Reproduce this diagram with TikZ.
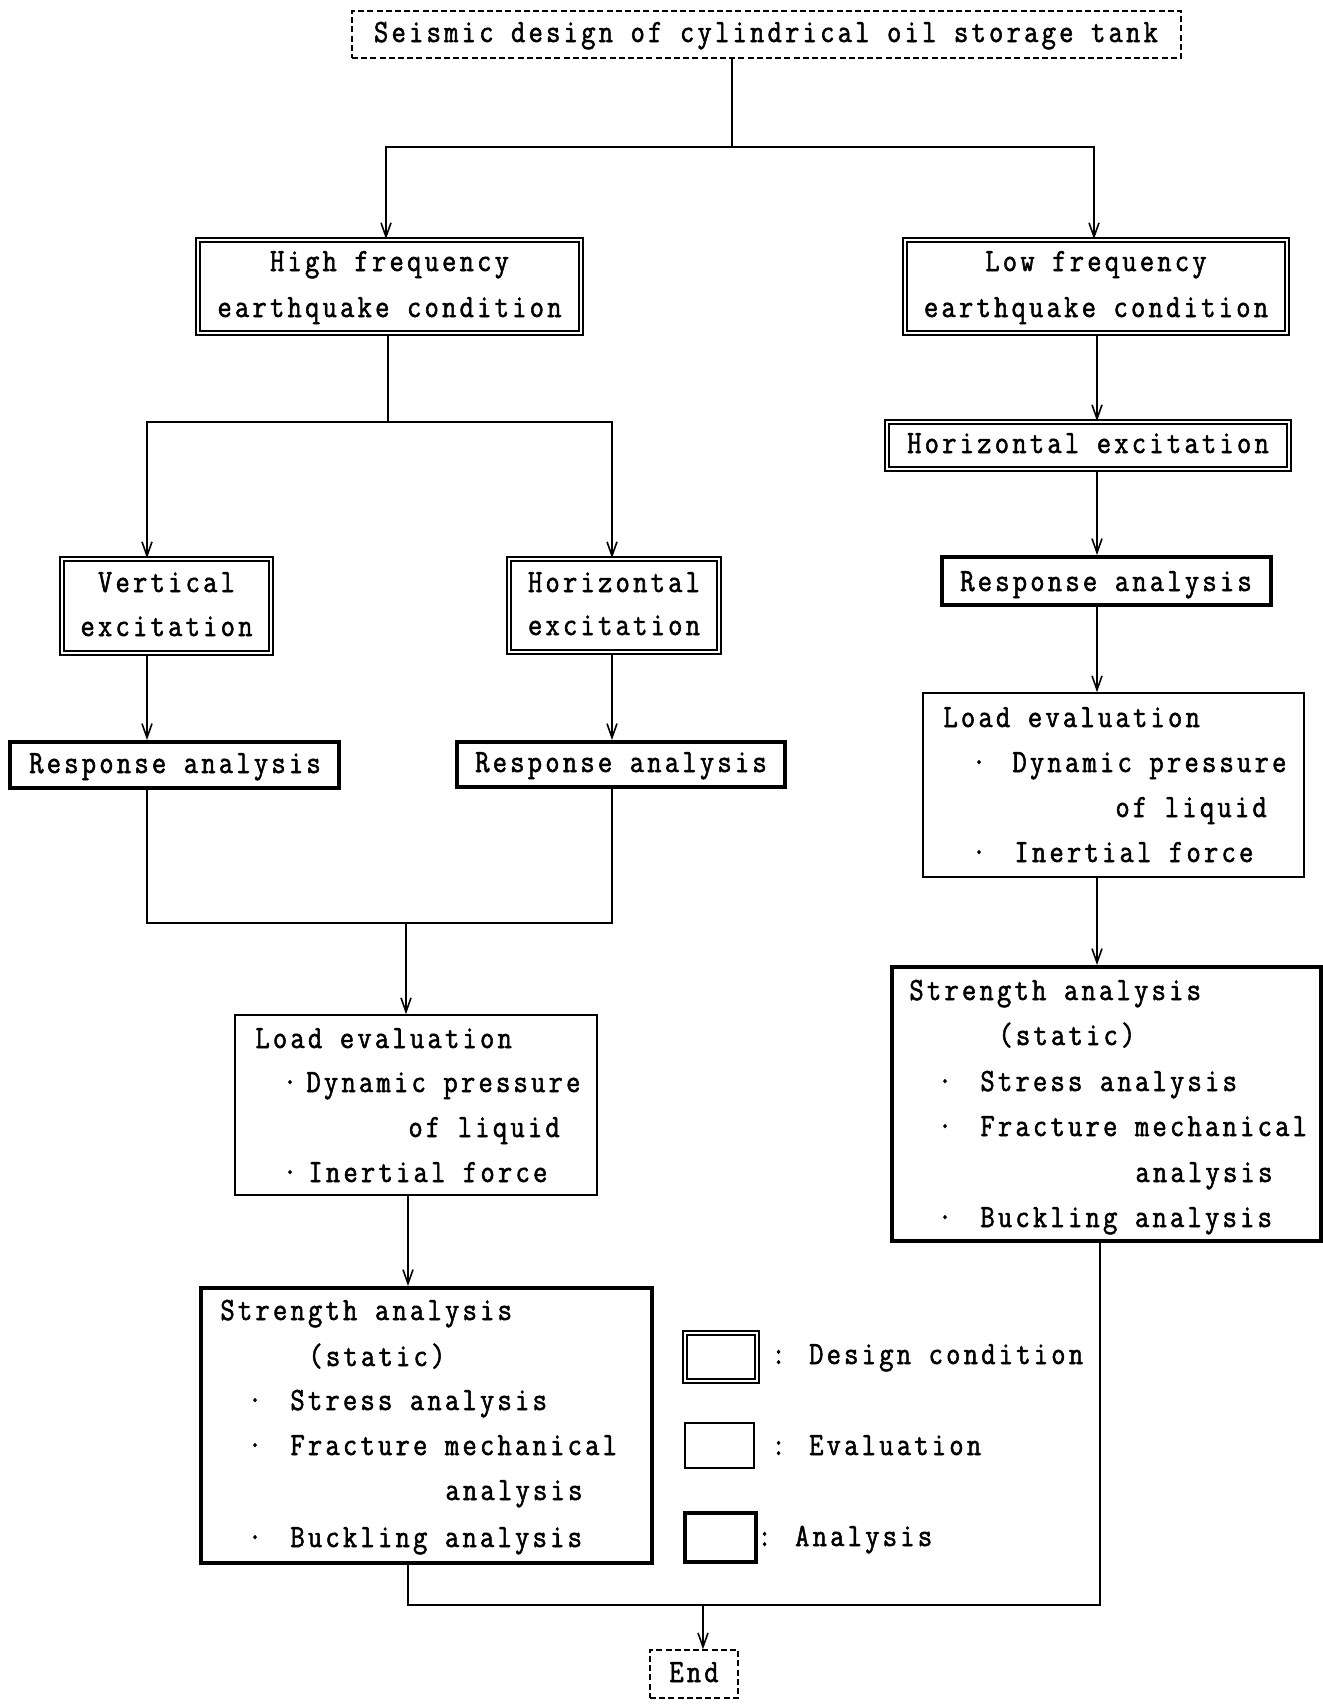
\documentclass[tikz,border=0pt]{standalone}
\usepackage{fontspec}
\newfontfamily\dgfont[FakeBold=1.6,FakeStretch=0.86,LetterSpace=9.8]{lmmono12-regular.otf}
\usetikzlibrary{arrows.meta,fit}
\tikzset{
  txt/.style={inner sep=0pt, font=\dgfont\fontsize{16.2pt}{20pt}\selectfont},
  condbox/.style={draw, double, line width=0.85pt, double distance=1.3pt, inner sep=0pt},
  evalbox/.style={draw, line width=0.8pt, inner sep=0pt},
  anabox/.style={draw, line width=2pt, inner sep=0pt},
  dashbox/.style={draw, line width=0.7pt, dash pattern=on 3pt off 1.6pt, inner sep=0pt},
  conn/.style={line width=0.8pt},
  arr/.style={conn, -{Straight Barb[length=7pt,width=5pt]}}
}
\begin{document}
\begin{tikzpicture}[x=0.5pt,y=-0.5pt]
\fill[white] (0,0) rectangle (1323,1704);
\useasboundingbox (0,0) rectangle (1323,1704);

% boxes
\node[dashbox, fit={(352,11) (1181,58)}] (top) {};
\node[condbox, fit={(198,240) (581,333)}] (hf) {};
\node[condbox, fit={(905,240) (1287,333)}] (lf) {};
\node[condbox, fit={(887,422) (1289,469)}] (hx) {};
\node[condbox, fit={(62,559) (271,653)}] (ve) {};
\node[condbox, fit={(509,559) (719,652)}] (he) {};
\node[anabox, fit={(10,742) (339,788)}] (ra1) {};
\node[anabox, fit={(457,742) (785,787)}] (ra2) {};
\node[anabox, fit={(942,557) (1271,605)}] (rr) {};
\node[evalbox, fit={(235,1015) (597,1195)}] (le1) {};
\node[evalbox, fit={(923,693) (1304,877)}] (le2) {};
\node[anabox, fit={(201,1288) (652,1563)}] (sa1) {};
\node[anabox, fit={(892,967) (1321,1241)}] (sa2) {};
\node[dashbox, fit={(650,1650) (738,1698)}] (fin) {};
% legend boxes
\node[condbox, fit={(685,1333) (757,1381)}] (lgd) {};
\node[evalbox, fit={(685,1423) (754,1468)}] (lge) {};
\node[anabox, fit={(685,1513) (756,1562)}] (lga) {};

% texts
\node[txt, anchor=base] (t0) at (766,42) {Seismic design of cylindrical oil storage tank};
\node[txt, anchor=base] (thf1) at (389.5,271) {High frequency};
\node[txt, anchor=base] (thf2) at (389.5,317) {earthquake condition};
\node[txt, anchor=base] (tlf1) at (1096,271) {Low frequency};
\node[txt, anchor=base] (tlf2) at (1096,317) {earthquake condition};
\node[txt, anchor=base] (thx) at (1088,453) {Horizontal excitation};
\node[txt, anchor=base] (tve1) at (166.5,592) {Vertical};
\node[txt, anchor=base] (tve2) at (166.5,636) {excitation};
\node[txt, anchor=base] (the1) at (614,592) {Horizontal};
\node[txt, anchor=base] (the2) at (614,635) {excitation};
\node[txt, anchor=base] (tra1) at (175,773) {Response analysis};
\node[txt, anchor=base] (tra2) at (621,772) {Response analysis};
\node[txt, anchor=base] (trr) at (1106,591) {Response analysis};

\node[txt, anchor=base west] (tle11) at (255,1048) {Load evaluation};
\node[txt, anchor=base] (tle1d1) at (290,1092) {·};
\node[txt, anchor=base west] (tle12) at (306,1092) {Dynamic pressure};
\node[txt, anchor=base west] (tle13) at (408,1137) {of liquid};
\node[txt, anchor=base] (tle1d2) at (290,1182) {·};
\node[txt, anchor=base west] (tle14) at (308,1182) {Inertial force};

\node[txt, anchor=base west] (tle21) at (943,727) {Load evaluation};
\node[txt, anchor=base] (tle2d1) at (979,772) {·};
\node[txt, anchor=base west] (tle22) at (1012,772) {Dynamic pressure};
\node[txt, anchor=base west] (tle23) at (1115,817) {of liquid};
\node[txt, anchor=base] (tle2d2) at (979,862) {·};
\node[txt, anchor=base west] (tle24) at (1014,862) {Inertial force};

\node[txt, anchor=base west] (tsa11) at (220,1320) {Strength analysis};
\node[txt, anchor=base west] (tsa12) at (308,1366) {(static)};
\node[txt, anchor=base] (tsa1d1) at (255,1410) {·};
\node[txt, anchor=base west] (tsa13) at (290,1410) {Stress analysis};
\node[txt, anchor=base] (tsa1d2) at (255,1455) {·};
\node[txt, anchor=base west] (tsa14) at (290,1455) {Fracture mechanical};
\node[txt, anchor=base west] (tsa15) at (445,1500) {analysis};
\node[txt, anchor=base] (tsa1d3) at (255,1547) {·};
\node[txt, anchor=base west] (tsa16) at (290,1547) {Buckling analysis};

\node[txt, anchor=base west] (tsa21) at (909,1000) {Strength analysis};
\node[txt, anchor=base west] (tsa22) at (998,1045) {(static)};
\node[txt, anchor=base] (tsa2d1) at (945,1091) {·};
\node[txt, anchor=base west] (tsa23) at (980,1091) {Stress analysis};
\node[txt, anchor=base] (tsa2d2) at (945,1136) {·};
\node[txt, anchor=base west] (tsa24) at (980,1136) {Fracture mechanical};
\node[txt, anchor=base west] (tsa25) at (1135,1182) {analysis};
\node[txt, anchor=base] (tsa2d3) at (945,1227) {·};
\node[txt, anchor=base west] (tsa26) at (980,1227) {Buckling analysis};

\node[txt, anchor=base] (tfin) at (694,1682) {End};
\node[txt, anchor=base west] (tlgd) at (771,1364) {: Design condition};
\node[txt, anchor=base west] (tlge) at (771,1455) {: Evaluation};
\node[txt, anchor=base west] (tlga) at (757,1546) {: Analysis};

% connectors
\coordinate (cA) at (386,0);
\coordinate (cB) at (1094,0);
\coordinate (cL) at (147,0);
\coordinate (cM) at (612,0);
\coordinate (cO) at (408,0);
\coordinate (cR) at (1097,0);
\coordinate (cS) at (1100,0);
\coordinate (j0) at (732,147);
\coordinate (j1) at (388,422);
\coordinate (j2) at (406,923);
\coordinate (j3) at (703,1605);

\draw[conn] (top.south -| j0) -- (j0);
\draw[arr] (j0) -| (hf.north -| cA);
\draw[arr] (j0) -| (lf.north -| cB);
\draw[conn] (hf.south -| j1) -- (j1);
\draw[arr] (j1) -| (ve.north -| cL);
\draw[arr] (j1) -| (he.north -| cM);
\draw[arr] (ve.south -| cL) -- (ra1.north -| cL);
\draw[arr] (he.south -| cM) -- (ra2.north -| cM);
\draw[conn] (ra1.south -| cL) |- (j2);
\draw[conn] (ra2.south -| cM) |- (j2);
\draw[arr] (j2) -- (le1.north -| j2);
\draw[arr] (le1.south -| cO) -- (sa1.north -| cO);
\draw[arr] (lf.south -| cR) -- (hx.north -| cR);
\draw[arr] (hx.south -| cR) -- (rr.north -| cR);
\draw[arr] (rr.south -| cR) -- (le2.north -| cR);
\draw[arr] (le2.south -| cR) -- (sa2.north -| cR);
\draw[conn] (sa1.south -| cO) |- (j3);
\draw[conn] (sa2.south -| cS) |- (j3);
\draw[arr] (j3) -- (fin.north -| j3);
\end{tikzpicture}
\end{document}
